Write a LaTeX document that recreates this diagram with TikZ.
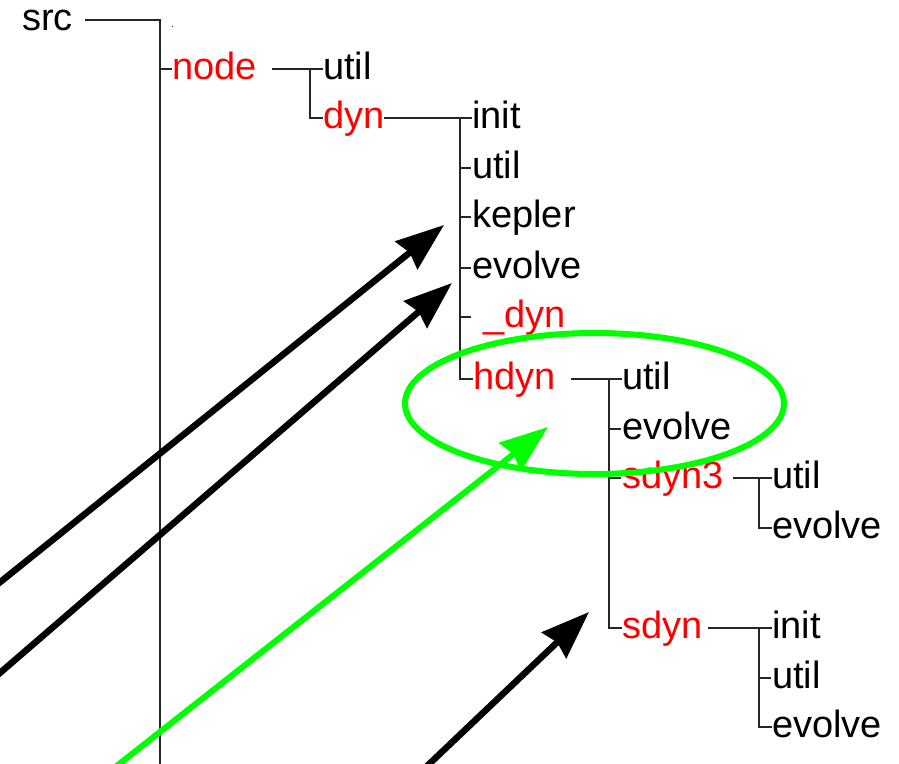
\documentclass[tikz,border=0pt]{standalone}
\usepackage{fontspec}
\setmainfont{Liberation Sans}
\usetikzlibrary{arrows.meta,shapes.geometric}
\definecolor{lime}{RGB}{0,255,0}
\definecolor{treered}{RGB}{255,0,0}
\tikzset{
  lbl/.style={inner sep=0pt, anchor=base west, font=\fontsize{38}{38}\selectfont, text=black},
  redlbl/.style={lbl, text=treered},
  branch/.style={draw=black!85, line width=1.3pt},
  bigarrow/.style={line width=6.5pt, -{Stealth[length=48pt, width=35pt, inset=4pt]}},
  blackarrow/.style={bigarrow, draw=black, fill=black},
  greenarrow/.style={bigarrow, draw=lime, fill=lime, line width=6pt},
  ring/.style={draw=lime, line width=6pt}
}
\begin{document}
\begin{tikzpicture}[x=1pt, y=-1pt]
\useasboundingbox (0,0) rectangle (899,763);
\clip (0,0) rectangle (899,763);
% labels
\node[lbl] (src) at (22,30.5) {src};
\node[inner sep=0pt, anchor=base west, font=\fontsize{10}{10}\selectfont] (dot) at (171,27) {.};
\node[redlbl] (node) at (172,79.5) {node};
\node[lbl] (nutil) at (323,79.5) {util};
\node[redlbl] (dyn) at (323,128.5) {dyn};
\node[lbl] (dinit) at (472,128.5) {init};
\node[lbl] (dutil) at (472,178.5) {util};
\node[lbl] (dkep) at (472,227.5) {kepler};
\node[lbl] (devo) at (472,278.5) {evolve};
\node[redlbl] (udyn) at (483,327.5) {\_dyn\_};
\node[redlbl] (hdyn) at (473,389.5) {hdyn};
\node[lbl] (hutil) at (622,389.5) {util};
\node[lbl] (hevo) at (622,439.5) {evolve};
\node[redlbl] (sdyn3) at (622,488.5) {sdyn3};
\node[redlbl] (sdyn) at (622,638.5) {sdyn};
\node[lbl] (s3util) at (772,488.5) {util};
\node[lbl] (s3evo) at (772,538.5) {evolve};
\node[lbl] (sinit) at (772,638.5) {init};
\node[lbl] (sutil) at (772,688.5) {util};
\node[lbl] (sevo) at (772,737.5) {evolve};
% junction coordinates
\coordinate (srcR) at (85,20);
\coordinate (j0) at (160,20);
\coordinate (j0end) at (160,780);
\coordinate (j0n) at (160,69);
\coordinate (nodeR) at (272,69);
\coordinate (j1) at (310,69);
\coordinate (j1d) at (310,118);
\coordinate (dynR) at (384,118);
\coordinate (j2) at (460,118);
\coordinate (j2h) at (460,379);
\coordinate (hdynR) at (571,379);
\coordinate (j3) at (609,379);
\coordinate (j3s) at (609,628);
\coordinate (sdyn3R) at (733,478);
\coordinate (j4) at (759,478);
\coordinate (j4e) at (759,528);
\coordinate (sdynR) at (708,628);
\coordinate (j5) at (759,628);
\coordinate (j5e) at (759,727);
% tree branches
\draw[branch] (srcR) -- (j0) -- (j0end);
\draw[branch] (j0n) -- (node.west |- j0n);
\draw[branch] (nodeR) -- (nutil.west |- nodeR);
\draw[branch] (j1) -- (j1d) -- (dyn.west |- j1d);
\draw[branch] (dynR) -- (dinit.west |- dynR);
\draw[branch] (j2) -- (j2h) -- (hdyn.west |- j2h);
\foreach \yy in {168, 217, 268, 317}
  \draw[branch] (460,\yy) -- (471,\yy);
\draw[branch] (hdynR) -- (hutil.west |- hdynR);
\draw[branch] (j3) -- (j3s) -- (sdyn.west |- j3s);
\foreach \yy in {429, 478}
  \draw[branch] (609,\yy) -- (621,\yy);
\draw[branch] (sdyn3R) -- (s3util.west |- sdyn3R);
\draw[branch] (j4) -- (j4e) -- (s3evo.west |- j4e);
\draw[branch] (sdynR) -- (sinit.west |- sdynR);
\draw[branch] (j5) -- (j5e) -- (sevo.west |- j5e);
\draw[branch] (759,678) -- (771,678);
% green ellipse
\node[ring, ellipse, minimum width=379pt, minimum height=141pt, inner sep=0pt] (ring) at (594.5,403.5) {};
% arrows
\coordinate (a1s) at (-50,622.5);
\coordinate (a1t) at (444,225);
\coordinate (a2s) at (-50,716);
\coordinate (a2t) at (452,283);
\coordinate (gs) at (95,783);
\coordinate (gt) at (548,427);
\coordinate (a3s) at (405,787);
\coordinate (a3t) at (589,612);
\draw[blackarrow] (a1s) -- (a1t);
\draw[blackarrow] (a2s) -- (a2t);
\draw[greenarrow] (gs) -- (gt);
\draw[blackarrow] (a3s) -- (a3t);
\end{tikzpicture}
\end{document}
